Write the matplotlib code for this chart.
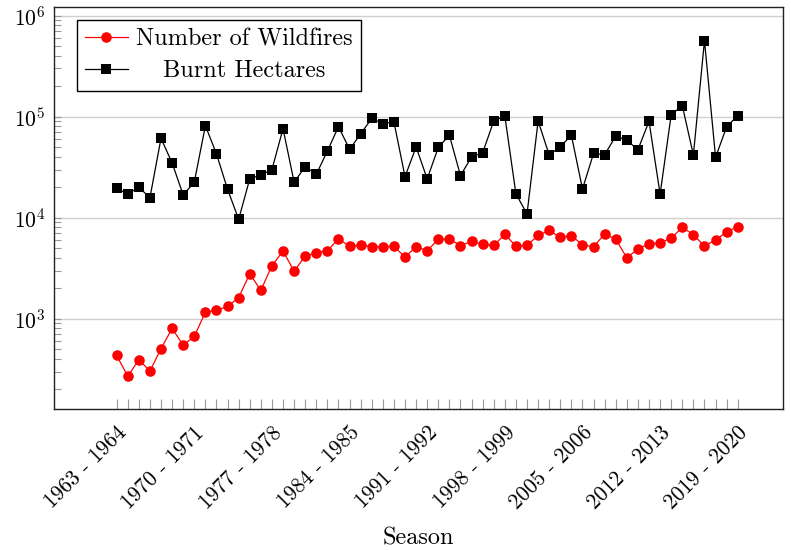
import matplotlib
matplotlib.use("Agg")
import matplotlib.pyplot as plt
import numpy as np
from matplotlib.ticker import LogLocator, FixedLocator, NullFormatter

plt.rcParams['font.family'] = 'serif'
plt.rcParams['font.serif'] = ['cmr10']
plt.rcParams['mathtext.fontset'] = 'cm'
plt.rcParams['axes.formatter.use_mathtext'] = True

start_years = list(range(1963, 2020))
seasons = [f"{y} - {y + 1}" for y in start_years]

wildfires = [434, 268, 393, 303, 505, 801, 548, 668, 1161, 1208,
             1325, 1614, 2794, 1905, 3350, 4670, 2958, 4169, 4498, 4710,
             6194, 5200, 5360, 5165, 5165, 5200, 4077, 5165, 4710, 6100,
             6140, 5290, 5820, 5440, 5320, 6840, 5230, 5320, 6680, 7490,
             6380, 6640, 5400, 5120, 6950, 6100, 4020, 4890, 5530, 5650,
             6280, 8020, 6790, 5230, 6050, 7200, 8150]

burnt_hectares = [19540, 17180, 20000, 15780, 61100, 34800, 16800, 22500, 81500, 42800,
                  19100, 9640, 24200, 26500, 29900, 76100, 22500, 32000, 26900, 45700,
                  79600, 47600, 67400, 96400, 85300, 88700, 25500, 50100, 24200, 49700,
                  65500, 26100, 39900, 44000, 90600, 101600, 17200, 10900, 90600, 41800,
                  50500, 65500, 19200, 43400, 42000, 64400, 58400, 47100, 90000, 17100,
                  104700, 128500, 41800, 567000, 39600, 79600, 102300]

label_step = 7

fig = plt.figure(figsize=(7.91, 5.5), dpi=100)
ax = fig.add_axes([54 / 791, 1 - 409 / 550, (783 - 54) / 791, (409 - 7) / 550])

x = np.arange(len(seasons))
ax.plot(x, wildfires, color='red', lw=0.9, marker='o', markersize=7.6,
        markeredgewidth=0, label='Number of Wildfires', zorder=3)
ax.plot(x, burnt_hectares, color='black', lw=0.9, marker='s', markersize=7.0,
        markeredgewidth=0, label='Burnt Hectares', zorder=3)

ax.set_yscale('log')
ax.set_ylim(10 ** 2.106, 10 ** 6.086)
ax.set_xlim(-5.65, 60.08)

ax.yaxis.set_major_locator(LogLocator(base=10, numticks=10))
ax.yaxis.set_minor_locator(LogLocator(base=10, subs=np.arange(2, 10), numticks=20))
ax.yaxis.set_minor_formatter(NullFormatter())

ax.xaxis.set_major_locator(FixedLocator(x[::label_step]))
ax.set_xticklabels(seasons[::label_step], rotation=45, ha='right', va='top',
                   rotation_mode='anchor', fontsize=15.5)
ax.xaxis.set_minor_locator(FixedLocator(x))

ax.tick_params(axis='x', which='both', direction='in', length=7, width=0.8,
               color='#999999', pad=10)
ax.tick_params(axis='y', which='both', direction='in', length=5, width=0.8,
               color='#999999', labelsize=15.5, pad=6)

ax.grid(True, axis='y', which='major', color='#d0d0d0', lw=1.0)
ax.set_axisbelow(True)
for s in ax.spines.values():
    s.set_linewidth(1.0)
    s.set_color('#222222')

ax.set_xlabel('Season', fontsize=17.5, labelpad=10)

leg = ax.legend(loc='upper left', bbox_to_anchor=(23 / 729, 1 - 13 / 402),
                fontsize=17.5, frameon=True, fancybox=False, framealpha=1,
                edgecolor='black', handlelength=1.75, borderpad=0.33,
                labelspacing=0.42, handletextpad=0.35, borderaxespad=0)
leg.get_frame().set_linewidth(1.0)

fig.canvas.draw()
r = fig.canvas.get_renderer()
widths = [t.get_window_extent(r).width for t in leg.get_texts()]
wmax = max(widths)
for t, w in zip(leg.get_texts(), widths):
    t.set_x((wmax - w) / 2)

fig.savefig('out.png', dpi=100)
